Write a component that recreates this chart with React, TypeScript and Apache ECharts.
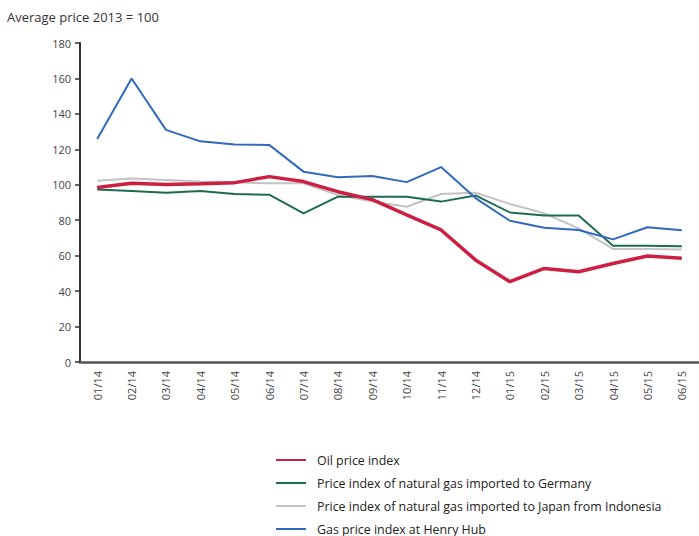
import React, { useEffect, useRef } from "react";
import * as echarts from "echarts";

const categories = ["01/14","02/14","03/14","04/14","05/14","06/14","07/14","08/14","09/14","10/14","11/14","12/14","01/15","02/15","03/15","04/15","05/15","06/15"];
const oilIndex = [98.5, 100.8, 100.2, 100.6, 101.2, 104.6, 101.8, 96.1, 91.6, 83, 74.5, 57.6, 45.3, 52.8, 50.9, 55.6, 59.8, 58.5];
const germanyIndex = [97.4, 96.5, 95.5, 96.5, 94.8, 94.4, 83.9, 93.3, 93.3, 93.3, 90.5, 94, 84.4, 82.7, 82.7, 65.6, 65.6, 65.3];
const japanIndex = [102.3, 103.6, 102.7, 101.8, 101.4, 100.8, 100.8, 94.2, 90.5, 87.6, 94.8, 95.5, 89.2, 83.9, 75.4, 63.8, 63.8, 63.5];
const henryHubIndex = [125.8, 160, 131, 124.5, 122.7, 122.5, 107.4, 104.3, 105, 101.5, 110, 92.5, 79.7, 75.8, 74.5, 69.2, 76, 74.3];
const seriesNames = [
  "Oil price index",
  "Price index of natural gas imported to Germany",
  "Price index of natural gas imported to Japan from Indonesia",
  "Gas price index at Henry Hub",
];
const titleText = "Average price 2013 = 100";

export default function App() {
  const ref = useRef<HTMLDivElement>(null);
  useEffect(() => {
    if (!ref.current) return;
    const chart = echarts.init(ref.current, undefined, { renderer: "svg" });
    const font = "'Open Sans', 'Noto Sans', sans-serif";
    chart.setOption({
      animation: false,
      textStyle: { fontFamily: font },
      title: {
        text: titleText,
        left: 2,
        top: 5,
        textStyle: { fontSize: 13, fontWeight: "normal", color: "#333", fontFamily: font },
      },
      legend: {
        orient: "vertical",
        left: 275,
        top: 454,
        height: 100,
        padding: 0,
        itemWidth: 30,
        itemHeight: 14,
        itemGap: 11,
        itemStyle: { opacity: 0 },
        data: seriesNames,
        textStyle: { fontSize: 12.4, color: "#222", fontFamily: font, padding: [0, 0, 0, 6] },
      },
      grid: { left: 80, right: -9, top: 43, bottom: 174, containLabel: false },
      xAxis: {
        type: "category",
        data: categories,
        boundaryGap: true,
        axisLine: { lineStyle: { color: "#555", width: 2.5 } },
        axisTick: { show: false },
        axisLabel: { rotate: 90, fontSize: 11, color: "#444", margin: 9, interval: 0, fontFamily: font },
        splitLine: { show: false },
      },
      yAxis: {
        type: "value",
        min: 0,
        max: 180,
        interval: 20,
        axisLine: { show: true, lineStyle: { color: "#333", width: 2 } },
        axisTick: { show: true, length: 5, lineStyle: { color: "#333", width: 1.5 } },
        axisLabel: { fontSize: 11, color: "#444", margin: 9, fontFamily: font },
        splitLine: { show: false },
      },
      series: [
        { name: seriesNames[2], type: "line", data: japanIndex, symbol: "none", z: 2,
          lineStyle: { color: "#c3c3c3", width: 2 }, itemStyle: { color: "#c3c3c3" } },
        { name: seriesNames[1], type: "line", data: germanyIndex, symbol: "none", z: 3,
          lineStyle: { color: "#1d6b53", width: 2 }, itemStyle: { color: "#1d6b53" } },
        { name: seriesNames[0], type: "line", data: oilIndex, symbol: "none", z: 4,
          lineStyle: { color: "#cc1f42", width: 3.5 }, itemStyle: { color: "#cc1f42" } },
        { name: seriesNames[3], type: "line", data: henryHubIndex, symbol: "none", z: 5,
          lineStyle: { color: "#3169c0", width: 2 }, itemStyle: { color: "#3169c0" } },
      ],
    });
    return () => chart.dispose();
  }, []);
  return (
    <div
      ref={ref}
      style={{ position: "fixed", left: 0, top: 0, width: 699, height: 536, background: "#fff" }}
    />
  );
}
